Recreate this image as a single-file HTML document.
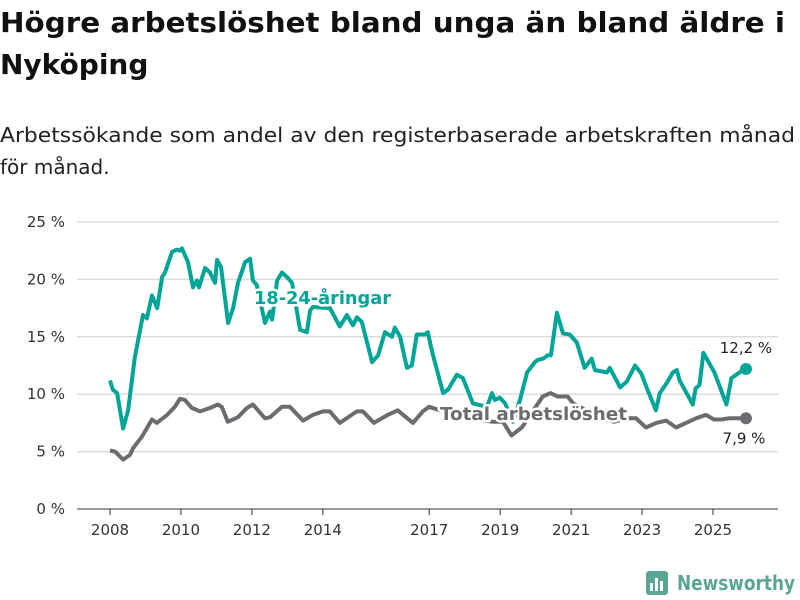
<!DOCTYPE html>
<html><head><meta charset="utf-8"><style>
body{margin:0;background:#fff;}
svg{display:block;font-family:"DejaVu Sans","Liberation Sans",sans-serif;}
</style></head><body>
<svg id="chart" width="800" height="600" viewBox="0 0 800 600">
<text x="0" y="32" font-size="28" font-weight="bold" fill="#111" textLength="785" lengthAdjust="spacingAndGlyphs">Högre arbetslöshet bland unga än bland äldre i</text>
<text x="0" y="74" font-size="28" font-weight="bold" fill="#111">Nyköping</text>
<text x="0" y="142" font-size="20" fill="#222" textLength="795" lengthAdjust="spacingAndGlyphs">Arbetssökande som andel av den registerbaserade arbetskraften månad</text>
<text x="0" y="174" font-size="20" fill="#222">för månad.</text>
<g id="grid"></g><g id="lines"></g><g id="labels"></g>
<g>
<rect x="646" y="571" width="22" height="24" rx="3" fill="#5aa593"/>
<rect x="650" y="583" width="3" height="8" fill="#fff"/><rect x="655" y="578" width="3" height="13" fill="#fff"/><rect x="660" y="581" width="3" height="10" fill="#fff"/>
<text x="677" y="590" font-size="20" font-weight="bold" fill="#5aa593" textLength="118" lengthAdjust="spacingAndGlyphs">Newsworthy</text>
</g>
</svg>
<script>
const yTicks=[0,5,10,15,20,25];
const xTickYears=[2008,2010,2012,2014,2017,2019,2021,2023,2025];
const youthT=[2008.0,2008.08,2008.2,2008.37,2008.51,2008.7,2008.93,2009.04,2009.18,2009.33,2009.47,2009.55,2009.75,2009.89,2009.97,2010.03,2010.2,2010.34,2010.45,2010.51,2010.68,2010.82,2010.96,2011.02,2011.13,2011.33,2011.47,2011.61,2011.81,2011.95,2012.03,2012.14,2012.37,2012.51,2012.57,2012.71,2012.85,2012.99,2013.13,2013.36,2013.55,2013.64,2013.72,2014.2,2014.48,2014.68,2014.85,2014.96,2015.1,2015.39,2015.56,2015.75,2015.95,2016.03,2016.18,2016.37,2016.51,2016.65,2016.88,2016.96,2017.08,2017.39,2017.53,2017.78,2017.95,2018.23,2018.63,2018.77,2018.85,2018.99,2019.14,2019.36,2019.56,2019.76,2019.98,2020.07,2020.21,2020.35,2020.43,2020.6,2020.77,2020.96,2021.16,2021.38,2021.58,2021.67,2022.01,2022.09,2022.38,2022.57,2022.8,2022.98,2023.14,2023.39,2023.5,2023.7,2023.87,2023.98,2024.06,2024.2,2024.43,2024.51,2024.62,2024.73,2025.04,2025.38,2025.52,2025.75,2025.93];
const youthV=[11.2,10.4,10.1,7.0,8.6,13.2,16.9,16.6,18.6,17.5,20.2,20.6,22.4,22.6,22.5,22.7,21.5,19.3,19.9,19.3,21.0,20.6,19.7,21.7,21.1,16.2,17.5,19.7,21.5,21.8,19.9,19.5,16.2,17.2,16.5,19.9,20.6,20.2,19.7,15.6,15.4,17.3,17.6,17.5,15.9,16.9,16.0,16.7,16.3,12.8,13.4,15.4,15.0,15.8,15.0,12.3,12.5,15.2,15.2,15.4,13.7,10.1,10.4,11.7,11.4,9.2,8.9,10.1,9.5,9.7,9.2,7.6,9.5,11.9,12.8,13.0,13.1,13.4,13.4,17.1,15.3,15.2,14.5,12.3,13.1,12.1,11.9,12.3,10.6,11.1,12.5,11.8,10.5,8.6,10.1,11.0,11.9,12.1,11.2,10.4,9.1,10.5,10.8,13.6,11.9,9.1,11.4,11.9,12.2];
const totalT=[2008.0,2008.14,2008.37,2008.56,2008.65,2008.9,2009.18,2009.32,2009.61,2009.83,2009.97,2010.11,2010.31,2010.54,2010.82,2011.04,2011.15,2011.32,2011.61,2011.86,2012.03,2012.37,2012.51,2012.85,2013.07,2013.44,2013.72,2014.0,2014.2,2014.48,2014.96,2015.13,2015.44,2015.83,2016.11,2016.54,2016.82,2017.0,2017.3,2017.58,2017.8,2018.0,2018.8,2019.08,2019.32,2019.61,2020.2,2020.42,2020.62,2020.9,2021.06,2021.3,2021.6,2021.9,2022.21,2022.56,2022.83,2023.11,2023.4,2023.68,2023.96,2024.24,2024.52,2024.8,2025.03,2025.23,2025.45,2025.93];
const totalV=[5.1,5.0,4.3,4.7,5.3,6.3,7.8,7.5,8.2,8.9,9.6,9.5,8.8,8.5,8.8,9.1,8.9,7.6,8.0,8.8,9.1,7.9,8.0,8.9,8.9,7.7,8.2,8.5,8.5,7.5,8.5,8.5,7.5,8.2,8.6,7.5,8.5,8.9,8.6,8.9,8.4,7.9,7.6,7.6,6.4,7.1,9.8,10.1,9.8,9.8,9.2,8.8,8.3,7.9,7.6,7.9,7.9,7.1,7.5,7.7,7.1,7.5,7.9,8.2,7.8,7.8,7.9,7.9];
const NS="http://www.w3.org/2000/svg";
const X0=110,PXY=35.47,Y0=509,PXV=11.48,GX1=77,GX2=778;
const xs=t=>X0+(t-2008)*PXY, ys=v=>Y0-v*PXV;
function mk(tag,attrs,parent){const e=document.createElementNS(NS,tag);for(const k in attrs)e.setAttribute(k,attrs[k]);parent.appendChild(e);return e;}
const grid=document.getElementById('grid'),lines=document.getElementById('lines'),labels=document.getElementById('labels');
yTicks.forEach(v=>{
 const l=mk('line',{x1:GX1,x2:GX2,y1:ys(v),y2:ys(v),stroke:v===0?'#333':'#ddd','stroke-width':v===0?1:1.5},grid);
 
 
 const t=mk('text',{x:65,y:ys(v)+5,'text-anchor':'end','font-size':15,fill:'#333'},grid);
 t.textContent=v+' %';
 
 
});
xTickYears.forEach(y=>{
 const tk=mk('line',{x1:xs(y),x2:xs(y),y1:Y0,y2:Y0+6,stroke:'#333'},grid);
 
 
 const t=mk('text',{x:xs(y),y:Y0+26,'text-anchor':'middle','font-size':15,fill:'#333'},grid);
 t.textContent=y;
 
 
});
function path(T,V){const n=Math.min(T.length,V.length);let d='';for(let i=0;i<n;i++)d+=(i?'L':'M')+xs(T[i]).toFixed(1)+','+ys(V[i]).toFixed(1);return d;}
const pt=mk('path',{d:path(totalT,totalV),fill:'none',stroke:'#6d6b70','stroke-width':4,'stroke-linejoin':'round'},lines);


const py=mk('path',{d:path(youthT,youthV),fill:'none',stroke:'#00a597','stroke-width':4,'stroke-linejoin':'round'},lines);


const ty=totalT[totalT.length-1],vy=totalV[totalV.length-1];
const d1=mk('circle',{cx:xs(ty),cy:ys(vy),r:6,fill:'#6d6b70'},lines);


const t2=youthT[youthT.length-1],v2=youthV[youthV.length-1];
const d2=mk('circle',{cx:xs(t2),cy:ys(v2),r:6,fill:'#00a597'},lines);


const e1=mk('text',{x:xs(t2),y:ys(v2)-16,'text-anchor':'middle','font-size':15,fill:'#222'},labels);
e1.textContent=String(v2).replace('.',',')+' %';


const e2=mk('text',{x:xs(ty)-2,y:ys(vy)+25,'text-anchor':'middle','font-size':15,fill:'#222'},labels);
e2.textContent=String(vy).replace('.',',')+' %';


const l1=mk('text',{x:254,y:304,'font-size':18,'font-weight':'bold',fill:'#00a597',stroke:'#fff','stroke-width':5,'paint-order':'stroke','stroke-linejoin':'round',textLength:137,lengthAdjust:'spacingAndGlyphs'},labels);
l1.textContent='18-24-åringar';


const l2=mk('text',{x:440,y:420,'font-size':18,'font-weight':'bold',fill:'#6d6b70',stroke:'#fff','stroke-width':5,'paint-order':'stroke','stroke-linejoin':'round',textLength:187,lengthAdjust:'spacingAndGlyphs'},labels);
l2.textContent='Total arbetslöshet';


</script>
</body></html>
